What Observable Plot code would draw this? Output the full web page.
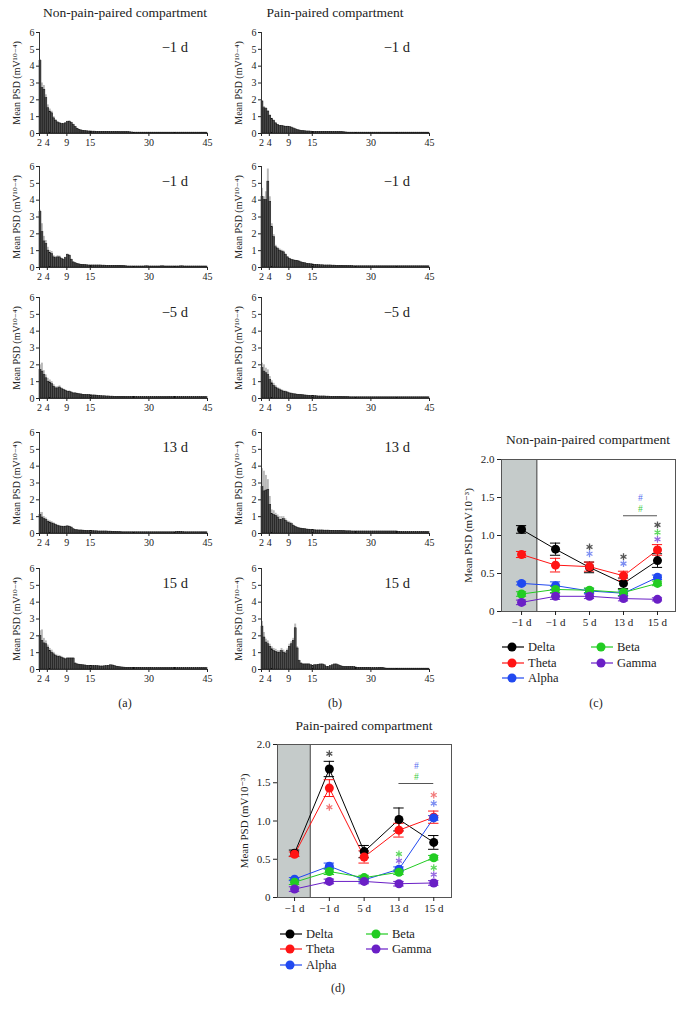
<!DOCTYPE html>
<html><head><meta charset="utf-8">
<script src="https://cdn.jsdelivr.net/npm/d3@7"></script>
<script src="https://cdn.jsdelivr.net/npm/@observablehq/plot@0.6"></script>
<style>
body{margin:0;background:#fff;}
#fig{position:relative;width:683px;height:1015px;font-family:"Liberation Serif","DejaVu Serif",serif;color:#222;overflow:hidden;}
.title{position:absolute;font-size:13.5px;line-height:1;white-space:nowrap;transform:translateX(-50%);}
.plabel{position:absolute;font-size:12px;line-height:1;white-space:nowrap;transform:translateX(-50%);}
</style></head><body><div id="fig"></div>
<script>
// ---------- spectra (bins of 0.5 Hz starting at 2 Hz) ----------
const binStart = 2, binWidth = 0.5;
const spectrumXTicks = [2, 4, 9, 15, 30, 45];
const spectrumYTicks = [0, 1, 2, 3, 4, 5, 6];
const dayLabelsA = ["−1 d", "−1 d", "−5 d", "13 d", "15 d"];
const dayLabelsB = ["−1 d", "−1 d", "−5 d", "13 d", "15 d"];

const nonPain1 = [4.3,2.7,2.6,2.1,1.5,1.3,1.2,0.9,0.75,0.65,
 0.6,0.55,0.55,0.6,0.68,0.7,0.62,0.5,0.38,0.28,
 0.22,0.18,0.16,0.14,0.13,0.12,0.12,0.11,0.11,0.1,
 0.1,0.1,0.1,0.1,0.1,0.1,0.09,0.09,0.09,0.09,
 0.09,0.08,0.08,0.08,0.08,0.08,0.07,0.06,0.05,0.05,
 0.05,0.05,0.05,0.05,0.05,0.05,0.05,0.05,0.05,0.05,
 0.05,0.05,0.05,0.05,0.05,0.05,0.05,0.05,0.05,0.05,
 0.05,0.05,0.05,0.05,0.05,0.05,0.05,0.05,0.05,0.05,
 0.05,0.05,0.05,0.05,0.05,0.05];
const nonPain1Err = [0.1,0.3,0.25,0.2,0.2,0.15,0.12,0.1,0.08,0.06,0.05,0.05,0.05,0.05,0.05,0.05,0.05,0.05,0.04,0.03,0.02,0.02];

const nonPain2 = [3.3,2.1,1.55,1.4,1.0,0.85,0.8,0.6,0.55,0.6,
 0.6,0.5,0.45,0.55,0.75,0.7,0.45,0.3,0.25,0.2,
 0.18,0.16,0.15,0.14,0.13,0.12,0.12,0.12,0.12,0.12,
 0.12,0.12,0.11,0.11,0.1,0.1,0.1,0.1,0.1,0.1,
 0.1,0.1,0.09,0.08,0.07,0.06,0.06,0.06,0.06,0.06,
 0.06,0.06,0.06,0.06,0.07,0.07,0.06,0.06,0.06,0.06,
 0.06,0.06,0.07,0.07,0.06,0.06,0.06,0.06,0.06,0.06,
 0.06,0.06,0.07,0.07,0.06,0.06,0.06,0.06,0.06,0.06,
 0.06,0.06,0.06,0.06,0.06,0.06];
const nonPain2Err = [0.1,0.5,0.3,0.2,0.2,0.15,0.15,0.1,0.1,0.1,0.08,0.06,0.06,0.06,0.05,0.05,0.05,0.04,0.03,0.03,0.02,0.02];

const nonPain3 = [1.7,1.6,1.4,1.2,1.0,0.95,0.85,0.7,0.6,0.6,
 0.65,0.55,0.5,0.45,0.4,0.4,0.35,0.3,0.3,0.28,
 0.25,0.24,0.22,0.21,0.2,0.2,0.19,0.18,0.18,0.17,
 0.15,0.14,0.13,0.13,0.12,0.12,0.11,0.11,0.1,0.1,
 0.1,0.1,0.1,0.1,0.09,0.09,0.09,0.09,0.09,0.09,
 0.08,0.08,0.08,0.08,0.08,0.08,0.08,0.08,0.08,0.08,
 0.08,0.08,0.08,0.08,0.08,0.08,0.09,0.08,0.08,0.08,
 0.08,0.08,0.08,0.08,0.08,0.08,0.08,0.08,0.08,0.08,
 0.08,0.08,0.08,0.08,0.08,0.08];
const nonPain3Err = [0.3,0.5,0.25,0.2,0.2,0.15,0.15,0.12,0.1,0.1,0.1,0.08,0.06,0.06,0.05,0.05,0.05,0.04,0.04,0.03,0.03,0.02];

const nonPain4 = [1.1,0.95,0.85,0.8,0.7,0.65,0.6,0.55,0.5,0.45,
 0.42,0.4,0.38,0.4,0.42,0.4,0.35,0.25,0.2,0.19,
 0.18,0.18,0.17,0.16,0.15,0.15,0.15,0.14,0.13,0.13,
 0.12,0.12,0.12,0.12,0.12,0.11,0.11,0.1,0.1,0.09,
 0.08,0.08,0.07,0.07,0.07,0.07,0.07,0.07,0.07,0.07,
 0.07,0.07,0.07,0.07,0.07,0.07,0.07,0.07,0.07,0.07,
 0.07,0.07,0.07,0.07,0.07,0.07,0.07,0.07,0.07,0.07,
 0.09,0.1,0.09,0.08,0.07,0.07,0.07,0.07,0.07,0.07,
 0.07,0.07,0.07,0.07,0.07,0.07];
const nonPain4Err = [0.15,0.3,0.15,0.12,0.1,0.1,0.1,0.08,0.06,0.06,0.05,0.05,0.05,0.05,0.04,0.04,0.03,0.03,0.02,0.02];

const nonPain5 = [2.0,1.7,1.55,1.5,1.3,1.1,1.0,0.9,0.8,0.75,
 0.75,0.7,0.65,0.6,0.65,0.65,0.65,0.65,0.35,0.3,
 0.28,0.26,0.25,0.24,0.22,0.22,0.22,0.21,0.2,0.2,
 0.19,0.18,0.18,0.19,0.2,0.22,0.25,0.24,0.2,0.17,
 0.15,0.13,0.12,0.11,0.1,0.1,0.1,0.1,0.1,0.1,
 0.1,0.1,0.09,0.09,0.09,0.09,0.1,0.09,0.08,0.08,
 0.08,0.08,0.08,0.08,0.08,0.08,0.08,0.08,0.08,0.08,
 0.08,0.08,0.08,0.08,0.08,0.08,0.08,0.08,0.08,0.08,
 0.08,0.08,0.08,0.08,0.08,0.08];
const nonPain5Err = [0.3,0.65,0.3,0.2,0.15,0.15,0.15,0.12,0.1,0.1,0.08,0.08,0.06,0.06,0.05,0.05,0.05,0.05,0.04,0.03,0.03,0.02];

const pain1 = [1.9,1.5,1.45,1.3,1.05,0.85,0.75,0.6,0.5,0.45,
 0.45,0.42,0.4,0.4,0.38,0.35,0.3,0.25,0.2,0.18,
 0.15,0.14,0.13,0.12,0.12,0.11,0.1,0.1,0.1,0.1,
 0.1,0.1,0.1,0.1,0.1,0.1,0.09,0.09,0.09,0.09,
 0.09,0.08,0.07,0.06,0.05,0.05,0.05,0.05,0.05,0.05,
 0.05,0.05,0.05,0.05,0.05,0.05,0.05,0.05,0.05,0.05,
 0.05,0.05,0.05,0.05,0.05,0.05,0.05,0.05,0.05,0.05,
 0.05,0.05,0.05,0.05,0.05,0.05,0.05,0.05,0.05,0.05,
 0.05,0.05,0.05,0.05,0.05,0.05];
const pain1Err = [0.05,0.1,0.08,0.06,0.06,0.05,0.05,0.04,0.04,0.03,0.03,0.03,0.03,0.03,0.02,0.02];

const pain2 = [4.2,4.0,4.0,5.1,3.9,2.4,1.8,1.2,1.1,1.0,
 0.95,0.9,0.75,0.6,0.5,0.45,0.42,0.4,0.38,0.35,
 0.3,0.27,0.25,0.22,0.2,0.19,0.18,0.16,0.15,0.14,
 0.13,0.13,0.12,0.12,0.12,0.12,0.11,0.11,0.1,0.1,
 0.1,0.1,0.09,0.09,0.08,0.08,0.08,0.07,0.07,0.07,
 0.07,0.07,0.07,0.07,0.07,0.07,0.07,0.07,0.07,0.07,
 0.07,0.07,0.07,0.07,0.07,0.07,0.07,0.07,0.07,0.07,
 0.07,0.07,0.07,0.07,0.07,0.07,0.07,0.07,0.07,0.07,
 0.07,0.07,0.07,0.07,0.07,0.07];
const pain2Err = [0.5,0.2,0.5,0.75,0.3,0.2,0.15,0.12,0.1,0.1,0.08,0.08,0.06,0.05,0.05,0.04,0.04,0.03,0.03,0.03,0.02,0.02];

const pain3 = [1.8,1.6,1.5,1.4,1.1,0.9,0.75,0.65,0.55,0.5,
 0.45,0.4,0.38,0.35,0.3,0.28,0.25,0.24,0.22,0.21,
 0.2,0.19,0.18,0.17,0.16,0.15,0.15,0.14,0.13,0.12,
 0.12,0.12,0.12,0.11,0.11,0.1,0.1,0.1,0.1,0.1,
 0.1,0.09,0.09,0.08,0.08,0.07,0.07,0.07,0.07,0.07,
 0.07,0.07,0.07,0.07,0.07,0.07,0.07,0.07,0.07,0.07,
 0.07,0.07,0.07,0.07,0.07,0.07,0.07,0.07,0.07,0.07,
 0.07,0.07,0.07,0.07,0.07,0.07,0.07,0.07,0.07,0.07,
 0.07,0.07,0.07,0.07,0.07,0.07];
const pain3Err = [0.3,0.4,0.3,0.3,0.2,0.15,0.15,0.12,0.1,0.1,0.08,0.08,0.06,0.05,0.05,0.05,0.04,0.04,0.03,0.03,0.02,0.02];

const pain4 = [2.75,2.5,2.55,2.6,1.7,1.15,1.1,1.05,0.95,0.8,
 0.8,0.85,0.75,0.65,0.6,0.55,0.45,0.38,0.33,0.3,
 0.28,0.26,0.25,0.23,0.22,0.21,0.2,0.19,0.18,0.18,
 0.18,0.18,0.17,0.17,0.17,0.16,0.16,0.15,0.15,0.15,
 0.15,0.14,0.14,0.13,0.13,0.13,0.12,0.12,0.12,0.12,
 0.12,0.12,0.12,0.12,0.12,0.12,0.12,0.12,0.12,0.12,
 0.12,0.12,0.12,0.12,0.12,0.12,0.12,0.12,0.12,0.12,
 0.1,0.09,0.08,0.08,0.08,0.08,0.08,0.08,0.08,0.08,
 0.08,0.08,0.08,0.08,0.08,0.08];
const pain4Err = [1.1,1.2,0.9,0.6,0.5,0.25,0.25,0.15,0.15,0.2,0.2,0.15,0.12,0.1,0.1,0.08,0.06,0.05,0.05,0.04,0.04,0.03,0.03,0.03,0.03,0.02];

const pain5 = [2.55,1.9,1.6,1.5,1.35,1.2,1.1,1.05,1.0,1.0,
 1.1,1.0,0.95,1.1,1.35,1.5,1.7,2.45,1.25,0.5,
 0.35,0.3,0.3,0.3,0.3,0.25,0.2,0.25,0.25,0.28,
 0.3,0.3,0.25,0.15,0.15,0.2,0.25,0.3,0.3,0.25,
 0.2,0.17,0.15,0.15,0.15,0.15,0.15,0.14,0.12,0.1,
 0.1,0.1,0.1,0.1,0.1,0.1,0.08,0.08,0.08,0.08,
 0.1,0.1,0.08,0.06,0.05,0.05,0.05,0.05,0.05,0.05,
 0.05,0.05,0.05,0.05,0.05,0.05,0.05,0.05,0.05,0.05,
 0.05,0.05,0.05,0.05,0.05,0.05];
const pain5Err = [0.3,0.3,0.2,0.2,0.15,0.15,0.15,0.15,0.12,0.12,0.15,0.15,0.12,0.12,0.15,0.15,0.15,0.25,0.1,0.05,0.04,0.03,0.03,0.03,0.03,0.03,0.03,0.03,0.03,0.03];

// ---------- band power time courses ----------
const days = ["−1 d", "−1 d", "5 d", "13 d", "15 d"];
const bands = ["Delta", "Theta", "Alpha", "Beta", "Gamma"];
const bandColors = ["#000000", "#ff1414", "#2149f0", "#22cc22", "#6a1fc6"];

const nonPainDelta = [1.08, 0.82, 0.58, 0.37, 0.67];
const nonPainTheta = [0.75, 0.61, 0.59, 0.47, 0.81];
const nonPainAlpha = [0.37, 0.34, 0.27, 0.24, 0.45];
const nonPainBeta  = [0.23, 0.29, 0.28, 0.25, 0.37];
const nonPainGamma = [0.12, 0.20, 0.20, 0.17, 0.16];
const nonPainDeltaErr = [0.05, 0.08, 0.07, 0.07, 0.09];
const nonPainThetaErr = [0.04, 0.09, 0.06, 0.06, 0.07];
const nonPainAlphaErr = [0.02, 0.05, 0.03, 0.03, 0.03];
const nonPainBetaErr  = [0.03, 0.04, 0.03, 0.04, 0.03];
const nonPainGammaErr = [0.03, 0.04, 0.03, 0.03, 0.02];

const painDelta = [0.58, 1.68, 0.60, 1.02, 0.72];
const painTheta = [0.565, 1.43, 0.53, 0.88, 1.05];
const painAlpha = [0.24, 0.41, 0.23, 0.37, 1.04];
const painBeta  = [0.20, 0.34, 0.26, 0.33, 0.52];
const painGamma = [0.11, 0.21, 0.21, 0.18, 0.19];
const painDeltaErr = [0.04, 0.10, 0.08, 0.15, 0.09];
const painThetaErr = [0.03, 0.11, 0.08, 0.09, 0.08];
const painAlphaErr = [0.02, 0.04, 0.03, 0.03, 0.03];
const painBetaErr  = [0.03, 0.04, 0.03, 0.03, 0.03];
const painGammaErr = [0.03, 0.03, 0.03, 0.03, 0.03];

// significance asterisks: [day index, value, colour]
const nonPainStars = [
  [2, 0.85, "#555555"], [2, 0.76, "#7d8ff2"],
  [3, 0.72, "#555555"], [3, 0.63, "#7d8ff2"],
  [4, 1.14, "#555555"], [4, 1.04, "#5fd85f"], [4, 0.95, "#9466e0"]
];
// hash marks: [x, value, colour]
const nonPainHashes = [[3.5, 1.49, "#5a70f0"], [3.5, 1.35, "#44cc44"]];
const nonPainHashLine = [3, 4, 1.26];
const painStars = [
  [1, 1.88, "#555555"], [1, 1.18, "#f27a7a"],
  [3, 0.57, "#5fd85f"], [3, 0.48, "#9466e0"],
  [4, 1.34, "#f27a7a"], [4, 1.23, "#7d8ff2"], [4, 0.39, "#5fd85f"], [4, 0.30, "#9466e0"]
];
const painHashes = [[3.5, 1.72, "#5a70f0"], [3.5, 1.57, "#44cc44"]];
const painHashLine = [3, 4, 1.49];
const baselineEnd = 0.45;

// ---------- drawing ----------
const SERIF = "'Liberation Serif','DejaVu Serif',serif";
const fig = document.getElementById("fig");
function place(node, left, top) {
  node.style.position = "absolute";
  node.style.left = left + "px";
  node.style.top = top + "px";
  fig.appendChild(node);
}
function addText(cls, text, cx, top) {
  const d = document.createElement("div");
  d.className = cls; d.textContent = text;
  d.style.left = cx + "px"; d.style.top = top + "px";
  fig.appendChild(d);
}

function spectrum(vals, errs, day) {
  const rows = vals.map((v, i) => ({f0: binStart + binWidth * i, f1: binStart + binWidth * (i + 1), v, e: errs[i] || 0}));
  return Plot.plot({
    width: 217, height: 133, marginLeft: 39, marginRight: 10, marginTop: 12, marginBottom: 20,
    style: {fontFamily: SERIF, fontSize: "10px", background: "transparent", color: "#222", overflow: "visible"},
    x: {domain: [2, 45]},
    y: {domain: [0, 6]},
    marks: [
      Plot.rect(rows, {x1: "f0", x2: "f1", y1: 0, y2: d => d.v + d.e, fill: "#b9b9b9"}),
      Plot.rect(rows, {x1: "f0", x2: "f1", y1: 0, y2: "v", fill: "#4c4c4c", stroke: "#111", strokeWidth: 0.5}),
      Plot.ruleY([0], {stroke: "#333"}),
      Plot.ruleX([2], {stroke: "#333"}),
      Plot.axisX({ticks: spectrumXTicks, tickFormat: d => String(d), tickSize: 3, tickPadding: 2, label: null}),
      Plot.axisY({ticks: spectrumYTicks, tickFormat: d => String(d), tickSize: 3, tickPadding: 2, label: "Mean PSD (mV¹⁰⁻⁴)", labelAnchor: "center", labelOffset: 27, labelArrow: "none"}),
      Plot.text([day], {x: 40, y: 5.1, text: d => d, textAnchor: "end", fontSize: 14.5, fill: "#222"})
    ]
  });
}

const nonPainSpectra = [[nonPain1, nonPain1Err], [nonPain2, nonPain2Err], [nonPain3, nonPain3Err], [nonPain4, nonPain4Err], [nonPain5, nonPain5Err]];
const painSpectra = [[pain1, pain1Err], [pain2, pain2Err], [pain3, pain3Err], [pain4, pain4Err], [pain5, pain5Err]];
const rowTops = [20, 154, 285, 420, 556];
nonPainSpectra.forEach(([v, e], r) => place(spectrum(v, e, dayLabelsA[r]), 0, rowTops[r]));
painSpectra.forEach(([v, e], r) => place(spectrum(v, e, dayLabelsB[r]), 222, rowTops[r]));

function bandChart(values, errors, stars, hashes, hashLine, xDomain, height) {
  const pts = [];
  bands.forEach((b, k) => values[k].forEach((v, i) => pts.push({band: b, i, v, e: errors[k][i]})));
  const cap = 0.15;
  return Plot.plot({
    width: 225, height, marginLeft: 46, marginRight: 5, marginTop: 10, marginBottom: 30,
    style: {fontFamily: SERIF, fontSize: "11px", background: "transparent", color: "#222", overflow: "visible"},
    x: {domain: xDomain},
    y: {domain: [0, 2]},
    color: {domain: bands, range: bandColors},
    marks: [
      Plot.rect([baselineEnd], {x1: xDomain[0], x2: d => d, y1: 0, y2: 2, fill: "#c5cbca"}),
      Plot.ruleX([baselineEnd], {stroke: "#333", strokeWidth: 1}),
      Plot.frame({stroke: "#555"}),
      Plot.line(pts, {x: "i", y: "v", z: "band", stroke: "band", strokeWidth: 1}),
      Plot.ruleX(pts, {x: "i", y1: d => d.v - d.e, y2: d => d.v + d.e, stroke: "band", strokeWidth: 1}),
      Plot.ruleY(pts, {y: d => d.v + d.e, x1: d => d.i - cap, x2: d => d.i + cap, stroke: "band", strokeWidth: 1}),
      Plot.ruleY(pts, {y: d => d.v - d.e, x1: d => d.i - cap, x2: d => d.i + cap, stroke: "band", strokeWidth: 1}),
      Plot.dot(pts, {x: "i", y: "v", fill: "band", r: 4.5}),
      ...stars.map(s => Plot.dot([s], {x: d => d[0], y: d => d[1], symbol: "asterisk", r: 3.2, stroke: s[2], strokeWidth: 1.3})),
      ...hashes.map(h => Plot.text([h], {x: d => d[0], y: d => d[1], text: () => "#", fill: h[2], fontSize: 9.5})),
      Plot.ruleY([hashLine[2]], {x1: hashLine[0], x2: hashLine[1], stroke: "#555", strokeWidth: 1.2}),
      Plot.axisY({ticks: [0, 0.5, 1, 1.5, 2], tickFormat: d => d === 0 ? "0" : d.toFixed(1), tickSize: 4, tickPadding: 3, label: "Mean PSD (mV10⁻³)", labelAnchor: "center", labelOffset: 37, labelArrow: "none"}),
      Plot.axisX({ticks: [0, 1, 2, 3, 4], tickFormat: i => days[i], tickSize: 4, tickPadding: 3, label: null})
    ]
  });
}

place(bandChart([nonPainDelta, nonPainTheta, nonPainAlpha, nonPainBeta, nonPainGamma],
  [nonPainDeltaErr, nonPainThetaErr, nonPainAlphaErr, nonPainBetaErr, nonPainGammaErr],
  nonPainStars, nonPainHashes, nonPainHashLine, [-0.59, 4.53], 192), 455, 449);
place(bandChart([painDelta, painTheta, painAlpha, painBeta, painGamma],
  [painDeltaErr, painThetaErr, painAlphaErr, painBetaErr, painGammaErr],
  painStars, painHashes, painHashLine, [-0.49, 4.51], 193), 231, 734);

function legend(left, top, colX, rowY) {
  const ns = "http://www.w3.org/2000/svg";
  const svg = document.createElementNS(ns, "svg");
  svg.setAttribute("width", 190); svg.setAttribute("height", 56);
  svg.style.fontFamily = SERIF; svg.style.fontSize = "12.5px";
  bands.forEach((b, k) => {
    const cx = colX[k < 3 ? 0 : 1], cy = rowY[k < 3 ? k : k - 3];
    const line = document.createElementNS(ns, "line");
    line.setAttribute("x1", cx - 10); line.setAttribute("x2", cx + 12);
    line.setAttribute("y1", cy); line.setAttribute("y2", cy);
    line.setAttribute("stroke", bandColors[k]); line.setAttribute("stroke-width", 1.2);
    svg.appendChild(line);
    const c = document.createElementNS(ns, "circle");
    c.setAttribute("cx", cx); c.setAttribute("cy", cy); c.setAttribute("r", 4.5);
    c.setAttribute("fill", bandColors[k]);
    svg.appendChild(c);
    const t = document.createElementNS(ns, "text");
    t.setAttribute("x", cx + 16); t.setAttribute("y", cy); t.setAttribute("dy", "0.35em");
    t.setAttribute("fill", "#222");
    t.textContent = b;
    svg.appendChild(t);
  });
  place(svg, left, top);
}
legend(495, 635, [17, 106], [12, 28, 43]);
legend(273, 922, [17, 103], [12, 27, 43]);

addText("title", "Non-pain-paired compartment", 125, 6);
addText("title", "Pain-paired compartment", 335, 6);
addText("title", "Non-pain-paired compartment", 588, 433);
addText("title", "Pain-paired compartment", 364, 719);
addText("plabel", "(a)", 125, 697);
addText("plabel", "(b)", 335, 697);
addText("plabel", "(c)", 596, 697);
addText("plabel", "(d)", 338, 982);
</script></body></html>
